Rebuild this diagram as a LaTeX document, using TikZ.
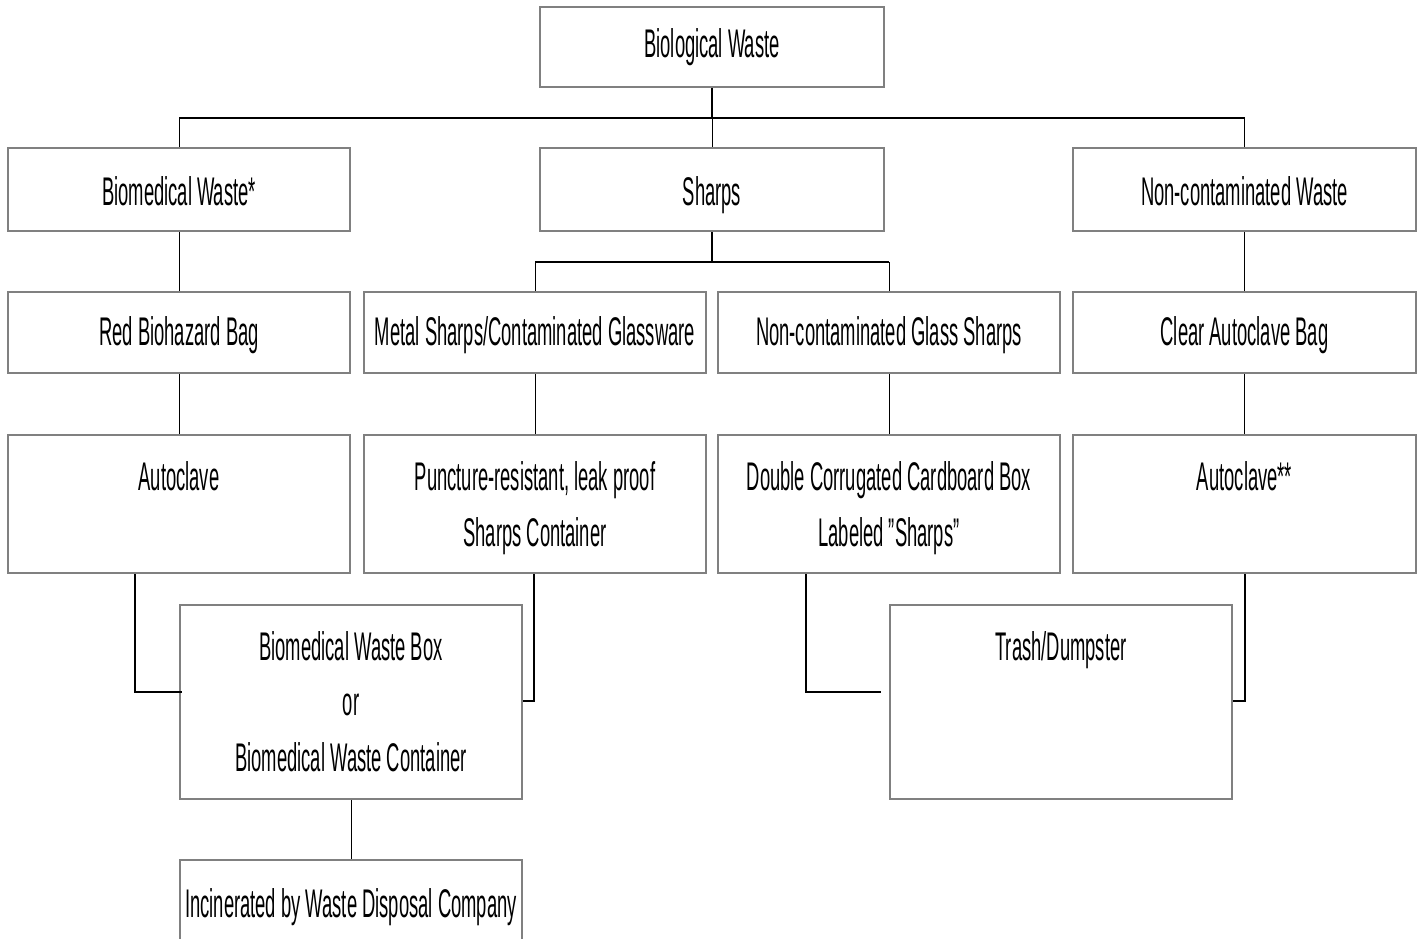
\documentclass[tikz,border=0pt]{standalone}
\usepackage{fontspec}
\setmainfont{Liberation Sans}[FakeStretch=0.46]
\begin{document}
\begin{tikzpicture}[x=1pt,y=-1pt,
  box/.style={draw=gray, line width=2pt, rectangle, inner sep=0pt, minimum width=342pt},
  txt/.style={anchor=base, inner sep=0pt, font=\fontsize{40}{56}\selectfont},
  thin/.style={draw=black, line width=1pt},
  bus/.style={draw=black, line width=2.4pt},
  elbow/.style={draw=black, line width=2pt}]
\useasboundingbox (0,0) rectangle (1424,939);
\clip (0,0) rectangle (1424,939);
\fill[white] (0,0) rectangle (1424,939);
% boxes
\node[box, minimum width=344pt, minimum height=80pt] (top) at (712,47) {};
\node[box, minimum height=83pt] (b1) at (179,189.5) {};
\node[box, minimum width=344pt, minimum height=83pt] (b2) at (712,189.5) {};
\node[box, minimum width=343pt, minimum height=83pt] (b3) at (1244.5,189.5) {};
\node[box, minimum height=81pt] (r1) at (179,332.5) {};
\node[box, minimum height=81pt] (r2) at (535,332.5) {};
\node[box, minimum height=81pt] (r3) at (889,332.5) {};
\node[box, minimum width=343pt, minimum height=81pt] (r4) at (1244.5,332.5) {};
\node[box, minimum height=138pt] (a1) at (179,504) {};
\node[box, minimum height=138pt] (a2) at (535,504) {};
\node[box, minimum height=138pt] (a3) at (889,504) {};
\node[box, minimum width=343pt, minimum height=138pt] (a4) at (1244.5,504) {};
\node[box, minimum height=194pt] (bio) at (351,702) {};
\node[box, minimum height=194pt] (trash) at (1061,702) {};
\node[box, minimum height=110pt] (inc) at (351,915) {};
% texts
\node[txt] (t0) at (712,58) {Biological Waste};
\node[txt] (t1) at (179,205) {Biomedical Waste*};
\node[txt] (t2) at (712,205) {Sharps};
\node[txt] (t3) at (1244.5,205) {Non-contaminated Waste};
\node[txt] (t4) at (179,345) {Red Biohazard Bag};
\node[txt] (t5) at (535,345) {Metal Sharps/Contaminated Glassware};
\node[txt] (t6) at (889,345) {Non-contaminated Glass Sharps};
\node[txt] (t7) at (1244.5,345) {Clear Autoclave Bag};
\node[txt] (t8) at (179,490) {Autoclave};
\node[txt] (t9) at (535,490) {Puncture-resistant, leak proof};
\node[txt] (t10) at (535,546) {Sharps Container};
\node[txt] (t11) at (889,490) {Double Corrugated Cardboard Box};
\node[txt] (t12) at (889,546) {Labeled "Sharps"};
\node[txt] (t13) at (1244.5,490) {Autoclave**};
\node[txt] (t14) at (351,660) {Biomedical Waste Box};
\node[txt] (t15) at (351,715) {or};
\node[txt] (t16) at (351,771) {Biomedical Waste Container};
\node[txt] (t17) at (1061,660) {Trash/Dumpster};
\node[txt] (t18) at (351,917) {Incinerated by Waste Disposal Company};
% connectors
\coordinate (j1) at (712,118);
\coordinate (j2) at (712,262);
\draw[bus] (top.south) -- (j1);
\draw[bus] (b1.north |- j1) -- (b3.north |- j1);
\draw[thin] (b1.north |- j1) -- (b1.north);
\draw[thin] (j1) -- (b2.north);
\draw[thin] (b3.north |- j1) -- (b3.north);
\draw[bus] (b2.south) -- (j2);
\draw[bus] (r2.north |- j2) -- (r3.north |- j2);
\draw[thin] (r2.north |- j2) -- (r2.north);
\draw[thin] (r3.north |- j2) -- (r3.north);
\draw[thin] (b1.south) -- (r1.north);
\draw[thin] (b3.south) -- (r4.north);
\draw[thin] (r1.south) -- (a1.north);
\draw[thin] (r2.south) -- (a2.north);
\draw[thin] (r3.south) -- (a3.north);
\draw[thin] (r4.south) -- (a4.north);
\draw[elbow] ([xshift=-44pt]a1.south) |- ([xshift=3pt,yshift=10pt]bio.west);
\draw[elbow] ([xshift=-1pt]a2.south) |- ([yshift=1pt]bio.east);
\draw[elbow] ([xshift=-83pt]a3.south) |- ([xshift=-8pt,yshift=10pt]trash.west);
\draw[elbow] (a4.south) |- ([yshift=1pt]trash.east);
\draw[thin] (bio.south) -- (inc.north);
\end{tikzpicture}
\end{document}
